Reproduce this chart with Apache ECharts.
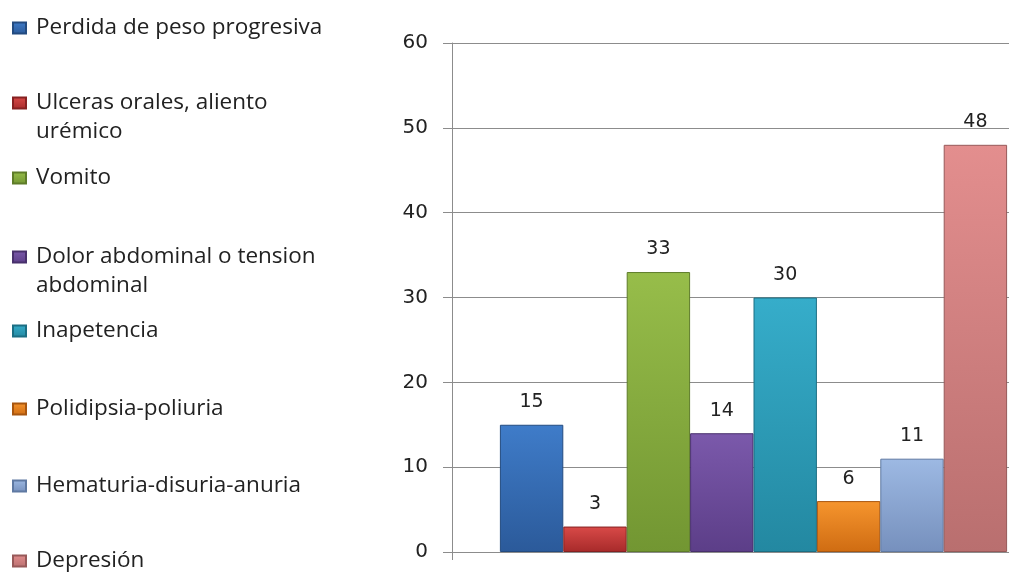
<!DOCTYPE html>
<html>
<head>
<meta charset="utf-8">
<script src="https://cdn.jsdelivr.net/npm/echarts@6/dist/echarts.min.js"></script>
<style>
  html, body { margin: 0; padding: 0; background: #fff; }
  #chart { width: 1009px; height: 572px; }
</style>
</head>
<body>
<div id="chart"></div>
<script>
// Clinical signs and how many cases showed each one
const symptoms = [
  'Perdida de peso progresiva',
  'Ulceras orales, aliento urémico',
  'Vomito',
  'Dolor abdominal o tension abdominal',
  'Inapetencia',
  'Polidipsia-poliuria',
  'Hematuria-disuria-anuria',
  'Depresión'
];
const counts = [15, 3, 33, 14, 30, 6, 11, 48];
const categories = [''];
const yTicks = { min: 0, max: 60, interval: 10 };

// Legend lines as they wrap in the key
const legendText = {
  'Ulceras orales, aliento urémico': 'Ulceras orales, aliento\nurémico',
  'Dolor abdominal o tension abdominal': 'Dolor abdominal o tension\nabdominal'
};

// top -> bottom shades and edge colour for each bar
const palette = [
  ['#3f7cc9', '#2b5a9a', '#234b80'],
  ['#d94a48', '#a72a2a', '#862121'],
  ['#97bd4a', '#729632', '#5e7c29'],
  ['#7b59ab', '#5c3e88', '#48306c'],
  ['#36adca', '#2388a1', '#1b6e83'],
  ['#f6952e', '#cf6c12', '#a8560f'],
  ['#9db9e3', '#7690bd', '#5f79a2'],
  ['#e38e8e', '#b96f6f', '#975959']
];

// icon centre heights of each key entry
const keyRows = [28, 103, 178, 257, 331, 409, 486, 561];

const chart = echarts.init(document.getElementById('chart'));

const series = symptoms.map((name, i) => ({
  name: name,
  type: 'bar',
  data: [counts[i]],
  barWidth: 63.4,
  barGap: '0%',
  itemStyle: {
    color: new echarts.graphic.LinearGradient(0, 0, 0, 1, [
      { offset: 0, color: palette[i][0] },
      { offset: 1, color: palette[i][1] }
    ]),
    borderColor: palette[i][2],
    borderWidth: 1
  },
  label: {
    show: true,
    position: 'top',
    distance: 13,
    fontFamily: 'DejaVu Sans',
    fontSize: 19,
    color: '#222'
  }
}));

const legends = symptoms.map((name, i) => {
  const multi = !!legendText[name];
  const lh = 29;
  const lines = multi ? 3 : 1;
  return {
    data: [name],
    orient: 'vertical',
    left: 12,
    top: keyRows[i] - (lines * lh) / 2,
    padding: 0,
    icon: 'rect',
    itemWidth: 13,
    itemHeight: 11,
    formatter: n => (legendText[n] ? '\n' + legendText[n] : n),
    textStyle: {
      fontFamily: 'Open Sans',
      fontSize: 22.5,
      lineHeight: lh,
      color: '#222',
      padding: [0, 0, 0, 5]
    }
  };
});

chart.setOption({
  animation: false,
  backgroundColor: '#fff',
  legend: legends,
  grid: { left: 452, top: 43, bottom: 20, right: -46, outerBoundsMode: 'none', containLabel: false },
  xAxis: {
    type: 'category',
    data: categories,
    axisLine: { show: true, lineStyle: { color: '#8c8c8c', width: 1 } },
    axisTick: { show: true, length: 8, lineStyle: { color: '#8c8c8c' } },
    axisLabel: { show: false }
  },
  yAxis: {
    type: 'value',
    min: yTicks.min,
    max: yTicks.max,
    interval: yTicks.interval,
    axisLine: { show: true, lineStyle: { color: '#8c8c8c', width: 1 } },
    axisTick: { show: true, length: 9, lineStyle: { color: '#8c8c8c' } },
    axisLabel: {
      margin: 24,
      fontFamily: 'DejaVu Sans',
      fontSize: 20,
      color: '#222'
    },
    splitLine: { show: true, lineStyle: { color: '#8c8c8c', width: 1 } }
  },
  series: series
});
</script>
</body>
</html>
